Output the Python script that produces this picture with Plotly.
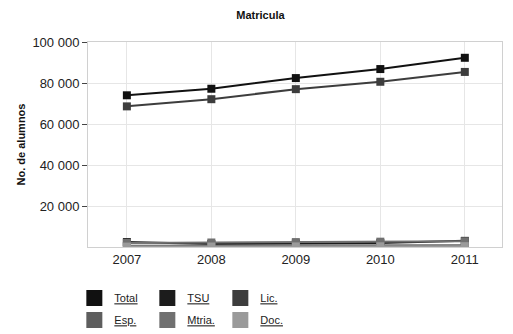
import plotly.graph_objects as go

years = ["2007", "2008", "2009", "2010", "2011"]
total = [74000, 77200, 82400, 86800, 92300]
tsu = [2400, 1500, 1700, 1900, 3000]
lic = [68600, 72100, 77000, 80600, 85400]
esp = [600, 700, 750, 800, 900]
mtria = [2000, 2200, 2400, 2600, 2800]
doc = [200, 250, 300, 350, 400]

series = [
    ("Total", total, "#111111", "legend"),
    ("TSU", tsu, "#1c1c1c", "legend"),
    ("Lic.", lic, "#3d3d3d", "legend"),
    ("Esp.", esp, "#5e5e5e", "legend2"),
    ("Mtria.", mtria, "#707070", "legend2"),
    ("Doc.", doc, "#9a9a9a", "legend2"),
]

fig = go.Figure()
for name, vals, color, leg in series:
    fig.add_trace(go.Scatter(
        x=years, y=vals, mode="lines+markers", showlegend=False,
        line=dict(color=color, width=2),
        marker=dict(symbol="square", size=8, color=color),
    ))
    # legend entry: plain square
    fig.add_trace(go.Scatter(
        x=[None], y=[None], mode="markers", name="<u>" + name + "</u>",
        marker=dict(symbol="square", size=16, color=color), legend=leg,
    ))

# page body has an 8px default margin, so the figure is drawn 8px smaller
W, H = 505, 326
font = "Liberation Sans, Arial, sans-serif"
leg_style = dict(orientation="h", xanchor="left", x=-0.033, yref="container",
                 yanchor="middle", entrywidth=28, entrywidthmode="pixels",
                 font=dict(family=font, size=11, color="#222"),
                 bgcolor="rgba(0,0,0,0)", itemwidth=30, tracegroupgap=0)

fig.update_layout(
    width=W, height=H,
    margin=dict(l=80, r=11, t=34, b=87, autoexpand=False),
    paper_bgcolor="white", plot_bgcolor="white",
    separators=", ",
    title=dict(text="<b>Matricula</b>", x=0.5, xanchor="center",
               y=1 - 7 / H, yanchor="middle",
               font=dict(family=font, size=11, color="#111")),
    font=dict(family=font, size=12, color="#222"),
    legend=dict(leg_style, y=1 - 290 / H),
    legend2=dict(leg_style, y=1 - 312 / H),
)
fig.update_xaxes(
    type="category", range=[-0.46, 4.44], showgrid=True, gridcolor="#e6e6e6",
    showline=True, linecolor="#d0d0d0", mirror=True, ticks="",
    tickfont=dict(family=font, size=13, color="#222"),
)
fig.update_yaxes(
    range=[0, 100000], tickvals=[20000, 40000, 60000, 80000, 100000],
    tickformat=",d", showgrid=True, gridcolor="#e6e6e6",
    showline=True, linecolor="#d0d0d0", mirror=True,
    ticks="outside", ticklen=5, tickcolor="#444",
    tickfont=dict(family=font, size=13, color="#222"),
    title=dict(text="<b>No. de alumnos</b>", font=dict(family=font, size=11, color="#111"),
               standoff=4),
)

fig.write_html("out.html")
